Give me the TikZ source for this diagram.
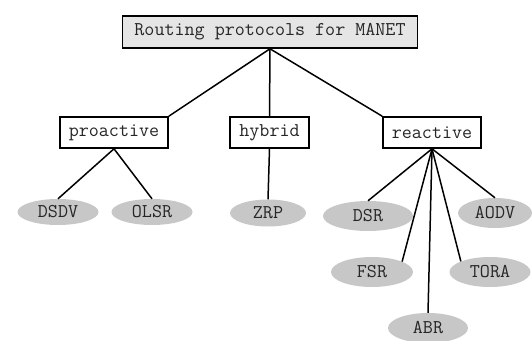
\documentclass[tikz,border=0pt]{standalone}
\usetikzlibrary{shapes.geometric}
\begin{document}
\begin{tikzpicture}[x=1pt,y=-1pt,
  txt/.style={font=\fontsize{19.5}{22}\selectfont\ttfamily, text=black!85},
  boxnode/.style={txt, draw=black, line width=1.6pt, rectangle, minimum height=31pt, inner sep=0pt},
  leaf/.style={txt, ellipse, fill=black!22, draw=none, inner sep=0pt, minimum height=28pt},
  edge/.style={draw=black, line width=1.5pt}]
\useasboundingbox (0,0) rectangle (532,340);
\node[boxnode, fill=black!10, minimum width=295pt, minimum height=32pt] (root) at (270,32) {Routing protocols for MANET};
\node[boxnode, fill=white, minimum width=108pt] (pro) at (114,132.5) {proactive};
\node[boxnode, fill=white, minimum width=79pt] (hyb) at (269.5,132.5) {hybrid};
\node[boxnode, fill=white, minimum width=98pt] (rea) at (432,132.5) {reactive};
\node[leaf, minimum width=81pt, minimum height=26pt] (dsdv) at (58,212) {DSDV};
\node[leaf, minimum width=81pt, minimum height=26pt] (olsr) at (152,212) {OLSR};
\node[leaf, minimum width=76pt, minimum height=27pt] (zrp) at (268,213) {ZRP};
\node[leaf, minimum width=90pt, minimum height=30pt] (dsr) at (368,216) {DSR};
\node[leaf, minimum width=74pt, minimum height=30pt] (aodv) at (495,213) {AODV};
\node[leaf, minimum width=82pt, minimum height=30pt] (fsr) at (372,272) {FSR};
\node[leaf, minimum width=81pt, minimum height=30pt] (tora) at (490,272) {TORA};
\node[leaf, minimum width=80pt, minimum height=30pt] (abr) at (428,328) {ABR};
\draw[edge] (root.south) -- (pro.north east);
\draw[edge] (root.south) -- (hyb.north);
\draw[edge] (root.south) -- (rea.north west);
\draw[edge] (pro.south) -- (dsdv.north);
\draw[edge] (pro.south) -- (olsr.north);
\draw[edge] (hyb.south) -- (zrp.north);
\draw[edge] (rea.south) -- (dsr.north);
\draw[edge] (rea.south) -- (fsr.19);
\draw[edge] (rea.south) -- (abr.north);
\draw[edge] (rea.south) -- (tora.160);
\draw[edge] (rea.south) -- (aodv.north);
\end{tikzpicture}
\end{document}
